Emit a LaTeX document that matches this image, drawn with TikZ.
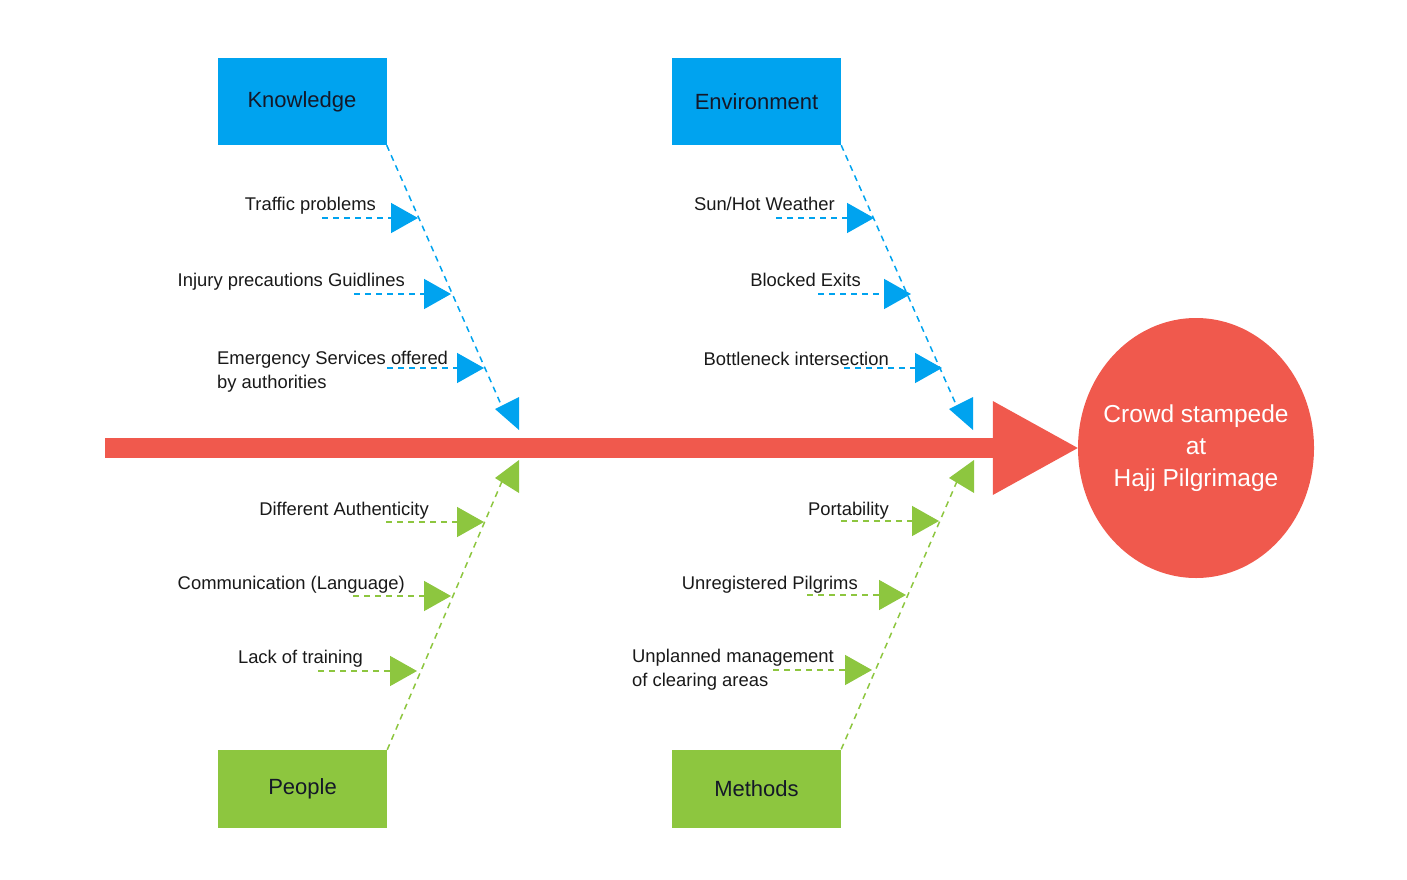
\documentclass[tikz,border=0pt]{standalone}
\usepackage{fontspec}
\setmainfont{Liberation Sans}
\usetikzlibrary{arrows.meta,shapes.geometric}

\definecolor{kblue}{RGB}{0,163,239}
\definecolor{mgreen}{RGB}{141,198,63}
\definecolor{fred}{RGB}{240,89,77}
\definecolor{boxtext}{RGB}{20,24,40}

\begin{document}
\begin{tikzpicture}[x=1pt, y=-1pt, >={Triangle[length=27pt,width=30pt]},
    catbox/.style={rectangle, minimum width=169pt, inner sep=0pt, text=boxtext, font=\fontsize{22}{26}\selectfont},
    causetext/.style={inner sep=0pt, text=black!90, font=\fontsize{18.4}{24}\selectfont},
    bluedash/.style={kblue, line width=1.5pt, dash pattern=on 6pt off 5pt},
    greendash/.style={mgreen, line width=1.5pt, dash pattern=on 6pt off 5pt}]
    \useasboundingbox (0,0) rectangle (1407,880);

    % Effect and spine
    \node[ellipse, fill=fred, minimum width=236pt, minimum height=260pt, inner sep=0pt] (effect) at (1196,448) {};
    \node[align=center, inner sep=0pt, text=white, font=\fontsize{24.5}{32}\selectfont] (effecttext) at (effect.center)
        {Crowd stampede\\at\\Hajj Pilgrimage};
    \coordinate (tail) at (105,448);
    \draw[fred, line width=20pt, -{Triangle[length=85pt,width=94pt,line width=0pt]}] (tail) -- (effect.west);

    % Category boxes
    \node[catbox, fill=kblue, minimum height=87pt] (kn) at (302,101.5) {Knowledge};
    \node[catbox, fill=kblue, minimum height=87pt] (en) at (756.5,101.5) {Environment};
    \node[catbox, fill=mgreen, minimum height=78pt] (pe) at (302.5,789) {People};
    \node[catbox, fill=mgreen, minimum height=78pt] (me) at (756.5,788.5) {Methods};

    % Bones (Blue, top)
    \coordinate (kend) at (503,409);
    \draw[bluedash] (kn.south east) -- (kend);
    \fill[kblue] (519,397) -- (519,430) -- (495,409) -- cycle;
    \coordinate (eend) at (958,409);
    \draw[bluedash] (en.south east) -- (eend);
    \fill[kblue] (973,397) -- (973,430) -- (949,409) -- cycle;

    % Bones (Green, bottom)
    \coordinate (pend) at (503,479);
    \draw[greendash] (pe.north east) -- (pend);
    \fill[mgreen] (519,460) -- (519,493) -- (495,478) -- cycle;
    \coordinate (mend) at (958,479);
    \draw[greendash] (me.north east) -- (mend);
    \fill[mgreen] (974,460) -- (974,493) -- (949,478) -- cycle;

    % Knowledge causes
    \node[causetext, anchor=base east] (k1) at (376,210) {Traffic problems};
    \coordinate (k1s) at (322,218); \coordinate (k1e) at (418,218);
    \draw[bluedash, ->] (k1s) -- (k1e);
    \node[causetext, anchor=base east] (k2) at (405,286) {Injury precautions Guidlines};
    \coordinate (k2s) at (354,294); \coordinate (k2e) at (451,294);
    \draw[bluedash, ->] (k2s) -- (k2e);
    \node[causetext, anchor=west, align=left] (k3) at (217,372) {Emergency Services offered\\by authorities};
    \coordinate (k3s) at (387,368); \coordinate (k3e) at (484,368);
    \draw[bluedash, ->] (k3s) -- (k3e);

    % Environment causes
    \node[causetext, anchor=base east] (e1) at (835,210) {Sun/Hot Weather};
    \coordinate (e1s) at (776,218); \coordinate (e1e) at (874,218);
    \draw[bluedash, ->] (e1s) -- (e1e);
    \node[causetext, anchor=base east] (e2) at (861,286) {Blocked Exits};
    \coordinate (e2s) at (818,294); \coordinate (e2e) at (911,294);
    \draw[bluedash, ->] (e2s) -- (e2e);
    \node[causetext, anchor=base east] (e3) at (889,365) {Bottleneck intersection};
    \coordinate (e3s) at (844,368); \coordinate (e3e) at (942,368);
    \draw[bluedash, ->] (e3s) -- (e3e);

    % People causes
    \node[causetext, anchor=base east] (p1) at (429,515) {Different Authenticity};
    \coordinate (p1s) at (386,522); \coordinate (p1e) at (484,522);
    \draw[greendash, ->] (p1s) -- (p1e);
    \node[causetext, anchor=base east] (p2) at (405,589) {Communication (Language)};
    \coordinate (p2s) at (353,596); \coordinate (p2e) at (451,596);
    \draw[greendash, ->] (p2s) -- (p2e);
    \node[causetext, anchor=base east] (p3) at (363,663) {Lack of training};
    \coordinate (p3s) at (318,671); \coordinate (p3e) at (417,671);
    \draw[greendash, ->] (p3s) -- (p3e);

    % Methods causes
    \node[causetext, anchor=base east] (m1) at (889,515) {Portability};
    \coordinate (m1s) at (841,521); \coordinate (m1e) at (939,521);
    \draw[greendash, ->] (m1s) -- (m1e);
    \node[causetext, anchor=base east] (m2) at (858,589) {Unregistered Pilgrims};
    \coordinate (m2s) at (807,595); \coordinate (m2e) at (906,595);
    \draw[greendash, ->] (m2s) -- (m2e);
    \node[causetext, anchor=west, align=left] (m3) at (632,670) {Unplanned management\\of clearing areas};
    \coordinate (m3s) at (773,670); \coordinate (m3e) at (872,670);
    \draw[greendash, ->] (m3s) -- (m3e);

\end{tikzpicture}
\end{document}
